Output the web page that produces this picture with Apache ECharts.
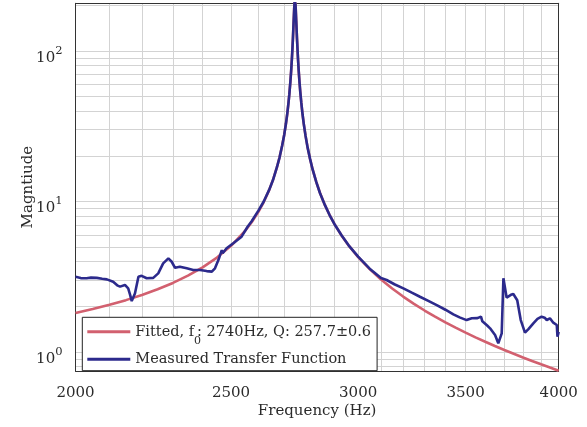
<!DOCTYPE html>
<html><head><meta charset="utf-8">
<script src="https://cdn.jsdelivr.net/npm/echarts@6/dist/echarts.min.js"></script>
<style>html,body{margin:0;padding:0;background:#fff}#c{width:587px;height:427px}</style>
</head><body><div id="c"></div>
<script>
// ---- data (Hz, magnitude) ----
const fittedFreq = [2000,2050,2100,2150,2200,2250,2300,2350,2400,2450,2500,2550,2575,2600,2620,2640,2655,2670,2680,2690,2698,2705,2710,2715,2718,2722,2725,2728,2730,2732,2735,2737,2738,2739,2740,2741,2742,2743,2745,2748,2752,2755,2758,2761,2765,2770,2775,2782,2790,2800,2810,2825,2840,2860,2880,2900,2930,2960,3000,3050,3100,3150,3200,3250,3300,3350,3400,3450,3500,3550,3600,3650,3700,3750,3800,3850,3900,3950,4000];
const fittedMag = [1.819,1.931,2.060,2.212,2.392,2.610,2.878,3.215,3.652,4.240,5.074,6.349,7.277,8.537,9.921,11.86,13.92,16.85,19.62,23.50,27.72,33.1,38.4,45.8,51.7,62.3,73.4,89.0,103.2,121.4,159.9,191.0,205.4,215.3,219.1,215.2,204.9,190.6,159.4,121.1,88.5,73.0,61.8,53.6,45.4,38.0,32.7,27.3,22.95,19.18,16.42,13.49,11.44,9.495,8.11,7.072,5.92,5.089,4.276,3.555,3.035,2.642,2.336,2.089,1.887,1.718,1.575,1.452,1.346,1.2525,1.170,1.0974,1.032,0.9735,0.9205,0.8724,0.8285,0.7883,0.7514];
const measuredFreq = [2000,2015,2032,2045,2062,2078,2092,2111,2125,2132,2147,2157,2163,2168,2178,2189,2199,2215,2236,2252,2268,2285,2296,2307,2323,2346,2368,2391,2414,2432,2443,2455,2467,2470,2484,2508,2538,2560,2575,2600,2620,2640,2655,2670,2680,2690,2698,2705,2710,2715,2718,2722,2725,2728,2730,2732,2735,2737,2738,2739,2740,2741,2742,2743,2745,2748,2752,2755,2758,2761,2765,2770,2775,2782,2790,2800,2810,2825,2840,2860,2880,2900,2930,2960,3000,3050,3100,3125,3160,3201,3240,3278,3320,3358,3400,3439,3470,3505,3531,3560,3578,3585,3610,3625,3651,3668,3686,3695,3702,3712,3721,3735,3748,3769,3788,3811,3830,3857,3880,3903,3920,3932,3950,3969,3989,3993,4000];
const measuredMag = [3.16,3.10,3.09,3.12,3.11,3.07,3.04,2.93,2.76,2.72,2.79,2.65,2.40,2.18,2.45,3.16,3.21,3.09,3.11,3.33,3.88,4.19,3.98,3.63,3.69,3.60,3.51,3.51,3.45,3.42,3.60,4.08,4.76,4.53,4.89,5.28,5.84,6.8,7.4,8.7,10.0,11.9,13.9,16.9,19.6,23.5,27.7,33.1,38.4,45.8,51.7,62.3,73.4,89.0,103,121,160,191,205,215,219,215,205,191,159,121,88.5,73.0,61.8,53.6,45.4,38.0,32.7,27.3,22.9,19.2,16.4,13.5,11.4,9.5,8.1,7.07,5.95,5.1,4.3,3.58,3.10,3.01,2.82,2.65,2.48,2.33,2.18,2.05,1.91,1.78,1.70,1.63,1.675,1.68,1.72,1.60,1.50,1.437,1.297,1.142,1.331,3.09,3.05,2.30,2.27,2.40,2.43,2.21,1.63,1.344,1.42,1.551,1.66,1.717,1.69,1.632,1.675,1.566,1.512,1.264,1.36];
const seriesNames = ['Fitted, f0: 2740Hz, Q: 257.7\u00b10.6', 'Measured Transfer Function'];
const xTickLabels = [2000, 2500, 3000, 3500, 4000];
const xGridFreq = [2100,2200,2300,2400,2500,2600,2700,2800,2900,3000,3100,3200,3300,3400,3500,3600,3700,3800,3900];
const yTickLabels = [1, 10, 100];
const yGridMag = [0.8,0.9,1,2,3,4,5,6,7,8,9,10,20,30,40,50,60,70,80,90,100,200];
const xRange = [2000, 4000];
const yRange = [0.748, 207.6];

const L = Math.log10;
const toPairs = (fs, ms) => fs.map((f, i) => [L(f), L(ms[i])]);
const FONT = 'DejaVu Serif';
const TXT = '#2b2b2b';
const FRAME = {show: true, onZero: false, lineStyle: {color: '#333', width: 1}};

const chart = echarts.init(document.getElementById('c'), null, {renderer: 'canvas'});
chart.setOption({
  animation: false,
  backgroundColor: '#fff',
  textStyle: {fontFamily: FONT, color: TXT},
  grid: {left: 75.5, top: 3.3, width: 483.2, height: 367.7, show: false, containLabel: false},
  xAxis: [{
    type: 'value', min: L(xRange[0]), max: L(xRange[1]), position: 'bottom',
    name: 'Frequency (Hz)', nameLocation: 'middle', nameGap: 33, nameMoveOverlap: false,
    nameTextStyle: {fontFamily: FONT, fontSize: 15, color: TXT},
    axisLine: FRAME,
    axisTick: {show: false, customValues: xGridFreq.map(L)},
    splitLine: {show: true, lineStyle: {color: '#d3d3d3', width: 1}},
    axisLabel: {customValues: xTickLabels.map(L), margin: 15, fontFamily: FONT, fontSize: 15, color: TXT,
      formatter: v => String(Math.round(Math.pow(10, v)))}
  }, {
    type: 'value', min: L(xRange[0]), max: L(xRange[1]), position: 'top',
    axisLine: FRAME, axisTick: {show: false}, axisLabel: {show: false}, splitLine: {show: false}
  }],
  yAxis: [{
    type: 'value', min: L(yRange[0]), max: L(yRange[1]), position: 'left',
    name: 'Magntiude', nameLocation: 'middle', nameGap: 40, nameMoveOverlap: false,
    nameTextStyle: {fontFamily: FONT, fontSize: 15, color: TXT},
    axisLine: FRAME,
    axisTick: {show: false, customValues: yGridMag.map(L)},
    splitLine: {show: true, lineStyle: {color: '#d3d3d3', width: 1}},
    axisLabel: {customValues: yTickLabels.map(L), margin: 13, color: TXT,
      formatter: v => '{b|10}{s|' + Math.round(v) + '}',
      rich: {
        b: {fontFamily: FONT, fontSize: 15, color: TXT, lineHeight: 18, padding: [14, 0, 0, 0], verticalAlign: 'middle'},
        s: {fontFamily: FONT, fontSize: 11.5, color: TXT, lineHeight: 12, padding: [0, 0, 1, 0], verticalAlign: 'middle'}
      }
    }
  }, {
    type: 'value', min: L(yRange[0]), max: L(yRange[1]), position: 'right',
    axisLine: FRAME, axisTick: {show: false}, axisLabel: {show: false}, splitLine: {show: false}
  }],
  legend: {
    orient: 'vertical', left: 82.3, top: 317.3,
    data: seriesNames,
    icon: 'rect', itemWidth: 43, itemHeight: 3, itemGap: 4,
    backgroundColor: '#fff', borderColor: '#222', borderWidth: 1,
    padding: [0, 6, 2.4, 5],
    formatter: n => n.indexOf('f0') >= 0 ? n.replace('f0', 'f{sub|0}') : n,
    textStyle: {fontFamily: FONT, fontSize: 14.5, color: TXT, lineHeight: 18,
      rich: {sub: {fontFamily: FONT, fontSize: 11, color: TXT, lineHeight: 11, width: 3, padding: [18, 0, 0, 0], verticalAlign: 'middle'}}}
  },
  series: [
    {name: seriesNames[0], type: 'line', data: toPairs(fittedFreq, fittedMag), showSymbol: false, symbol: 'none',
     clip: true, lineStyle: {color: '#d2606f', width: 2.6}, itemStyle: {color: '#d2606f'}, z: 2},
    {name: seriesNames[1], type: 'line', data: toPairs(measuredFreq, measuredMag), showSymbol: false, symbol: 'none',
     clip: true, lineStyle: {color: '#2c2a8c', width: 2.6}, itemStyle: {color: '#2c2a8c'}, z: 3}
  ]
});
</script></body></html>
